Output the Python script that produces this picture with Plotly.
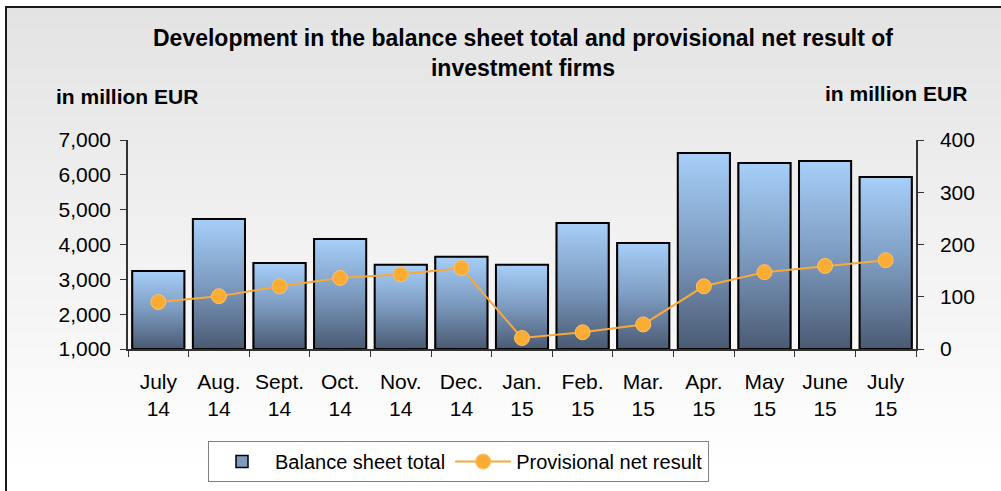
import plotly.graph_objects as go

months = ["July<br>14", "Aug.<br>14", "Sept.<br>14", "Oct.<br>14", "Nov.<br>14", "Dec.<br>14",
          "Jan.<br>15", "Feb.<br>15", "Mar.<br>15", "Apr.<br>15", "May<br>15", "June<br>15", "July<br>15"]
balance_total = [3240, 4730, 3470, 4160, 3420, 3650, 3420, 4620, 4040, 6630, 6340, 6400, 5940]
net_result = [90, 101, 120, 136, 143, 155, 21, 32, 47, 120, 147, 159, 170]

W, H = 1001, 491
L, R, T, B = 128, 85, 140, 142
PW, PH = W - L - R, H - T - B
FONT = "Liberation Sans, Arial, sans-serif"


def px(x):
    return (x - L) / PW


def py(y):
    return (H - B - y) / PH


idx = list(range(len(months)))
bw = 0.86
ymin = 1000

fig = go.Figure()

# bar trace (structure + legend)
fig.add_trace(go.Bar(
    x=idx, y=balance_total, width=bw, name="Balance sheet total",
    marker=dict(color="#7f9cc0", line=dict(color="#000000", width=1.5)),
    yaxis="y",
))

# gradient fill for each bar, built from the same data
for i, v in zip(idx, balance_total):
    fig.add_trace(go.Scatter(
        x=[i - bw / 2, i + bw / 2, i + bw / 2, i - bw / 2, i - bw / 2],
        y=[ymin, ymin, v, v, ymin],
        mode="lines", fill="toself",
        fillgradient=dict(type="vertical", start=ymin, stop=v,
                          colorscale=[[0, "#4a5a72"], [0.5, "#7d9bc0"], [1, "#a6cff9"]]),
        line=dict(color="#000000", width=2),
        showlegend=False, hoverinfo="skip", yaxis="y",
    ))

fig.add_trace(go.Scatter(
    x=idx, y=net_result, name="Provisional net result", yaxis="y2",
    mode="lines+markers",
    line=dict(color="#f7a93c", width=2),
    marker=dict(size=15, color="#fbac35", line=dict(color="#fdc265", width=1)),
))

shapes = []
# background gradient of the chart frame
top_y, bot_y = 7, 470
n = 60
for k in range(n):
    y0 = top_y + (bot_y - top_y) * k / n
    y1 = top_y + (bot_y - top_y) * (k + 1) / n + 0.6
    g = int(round(227 + (255 - 227) * (k + 0.5) / n))
    shapes.append(dict(type="rect", xref="paper", yref="paper", layer="below",
                       x0=px(6), x1=px(1010), y0=py(y1), y1=py(y0),
                       fillcolor=f"rgb({g},{g},{g})", line=dict(width=0)))
shapes.append(dict(type="rect", xref="paper", yref="paper", layer="below",
                   x0=px(6), x1=px(1010), y0=py(bot_y), y1=py(520),
                   fillcolor="#ffffff", line=dict(width=0)))
# frame border
shapes.append(dict(type="rect", xref="paper", yref="paper", layer="above",
                   x0=px(6), x1=px(1020), y0=py(520), y1=py(7),
                   fillcolor="rgba(0,0,0,0)", line=dict(color="#1a1a1a", width=2)))

annotations = [
    dict(text="<b>Development in the balance sheet total and provisional net result of<br>investment firms</b>",
         xref="paper", yref="paper", x=px(523), y=py(53), xanchor="center", yanchor="middle",
         showarrow=False, font=dict(family=FONT, size=23, color="#000000")),
    dict(text="<b>in million EUR</b>", xref="paper", yref="paper", x=px(54), y=py(96),
         xanchor="left", yanchor="middle", showarrow=False,
         font=dict(family=FONT, size=21, color="#000000")),
    dict(text="<b>in million EUR</b>", xref="paper", yref="paper", x=px(969), y=py(93),
         xanchor="right", yanchor="middle", showarrow=False,
         font=dict(family=FONT, size=21, color="#000000")),
]

axis_common = dict(showgrid=False, zeroline=False, showline=True, linecolor="#333333",
                   linewidth=1.5, ticks="outside", ticklen=6, tickcolor="#333333",
                   tickfont=dict(family=FONT, size=21, color="#000000"))

fig.update_layout(
    width=W, height=H,
    margin=dict(l=L, r=R, t=T, b=B, autoexpand=False),
    paper_bgcolor="#ffffff", plot_bgcolor="rgba(0,0,0,0)",
    barmode="overlay",
    showlegend=True,
    shapes=shapes, annotations=annotations,
    xaxis=dict(range=[-0.5, 12.5], tickmode="array", tickvals=idx, ticktext=months,
               showgrid=False, zeroline=False, showline=True, linecolor="#333333", linewidth=1.5,
               ticks="", tickfont=dict(family=FONT, size=21, color="#000000"),
               ticklabelstandoff=13,
               minor=dict(tick0=-0.5, dtick=1, ticks="outside", ticklen=6, tickcolor="#333333",
                          showgrid=False)),
    yaxis=dict(range=[1000, 7000], dtick=1000, tickformat=",", ticklabelstandoff=5, **axis_common),
    yaxis2=dict(range=[0, 400], dtick=100, overlaying="y", side="right", ticklabelstandoff=12,
                **axis_common),
    legend=dict(orientation="h", x=px(458.5), xanchor="center", y=py(441), yanchor="top",
                bgcolor="#ffffff", bordercolor="#808080", borderwidth=1,
                font=dict(family=FONT, size=20, color="#000000"),
                itemwidth=56),
)

fig.write_html("out.html", config={"displayModeBar": False},
               post_script="document.body.style.margin='0';")
